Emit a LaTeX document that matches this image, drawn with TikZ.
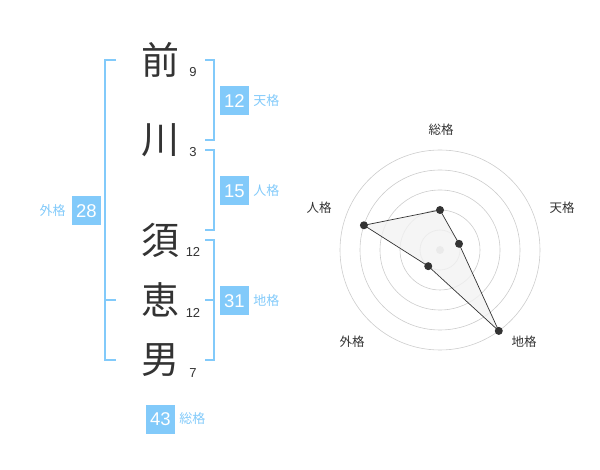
\documentclass[tikz,border=0pt]{standalone}
\usepackage{fontspec}
\setmainfont{Liberation Sans}
\newfontfamily\jp{Noto Sans CJK JP}
\usetikzlibrary{positioning,calc}
\definecolor{kakublue}{HTML}{82CAFA}
\definecolor{inkgray}{HTML}{333333}
\definecolor{ringgray}{HTML}{CCCCCC}
\definecolor{areagray}{HTML}{F2F2F2}
\begin{document}
\begin{tikzpicture}[x=1pt, y=-1pt,
    kanji/.style={text=inkgray, font=\jp\fontsize{38}{38}\selectfont, inner sep=0pt},
    strokes/.style={text=inkgray, font=\fontsize{13}{13}\selectfont, inner sep=0pt},
    kakubox/.style={fill=kakublue, text=white, minimum size=29pt, inner sep=0pt, font=\fontsize{18.5}{18.5}\selectfont},
    kakuname/.style={text=kakublue, font=\jp\fontsize{13}{13}\selectfont, inner sep=0pt},
    brace/.style={draw=kakublue, line width=2pt},
    ring/.style={draw=ringgray, line width=0.6pt},
    axisname/.style={text=inkgray, font=\jp\fontsize{12.5}{12.5}\selectfont, inner sep=0pt},
    dot/.style={circle, fill=inkgray, inner sep=0pt, minimum size=8pt}]
                \useasboundingbox (0,0) rectangle (600,470);
                \node[kanji] (c1) at (160,60) {前};
                \node[kanji] (c2) at (160,140) {川};
                \node[kanji] (c3) at (160,240) {須};
                \node[kanji] (c4) at (160,300) {恵};
                \node[kanji] (c5) at (160,360) {男};
                \node[strokes] (n1) at (193,72) {9};
                \node[strokes] (n2) at (193,152) {3};
                \node[strokes] (n3) at (193,252) {12};
                \node[strokes] (n4) at (193,313) {12};
                \node[strokes] (n5) at (193,373) {7};
                \draw[brace] (205,60) -- (214,60) -- (214,140) -- (205,140);
                \draw[brace] (205,150) -- (214,150) -- (214,230) -- (205,230);
                \draw[brace] (205,240) -- (214,240) -- (214,360) -- (205,360);
                \draw[brace] (205,300) -- (214,300);
                \draw[brace] (116,60) -- (105,60) -- (105,360) -- (116,360);
                \draw[brace] (105,300) -- (116,300);
                \node[kakubox] (ten) at (234.5,101) {12};
                \node[kakuname, right=4pt of ten] (tenname) {天格};
                \node[kakubox] (jin) at (234.5,191) {15};
                \node[kakuname, right=4pt of jin] (jinname) {人格};
                \node[kakubox] (chi) at (234.5,301) {31};
                \node[kakuname, right=4pt of chi] (chiname) {地格};
                \node[kakubox] (gai) at (86.5,211) {28};
                \node[kakuname, left=6pt of gai] (gainame) {外格};
                \node[kakubox] (sou) at (160.5,419) {43};
                \node[kakuname, right=4pt of sou] (souname) {総格};
                \coordinate (o) at (440,250);
                \foreach \r in {20,40,60,80,100}
                    \draw[ring] (o) circle (\r);
                \fill[ringgray] (o) circle (4);
                \coordinate (psou) at ($(o)+(-90:40)$);
                \coordinate (pten) at ($(o)+(-18:20)$);
                \coordinate (pchi) at ($(o)+(54:100)$);
                \coordinate (pgai) at ($(o)+(126:20)$);
                \coordinate (pjin) at ($(o)+(198:80)$);
                \draw[inkgray, fill=areagray, fill opacity=0.8, line width=0.7pt] (psou) -- (pten) -- (pchi) -- (pgai) -- (pjin) -- cycle;
                \foreach \p in {psou,pten,pchi,pgai,pjin}
                    \node[dot] at (\p) {};
                \node[axisname] (asou) at (441,130) {総格};
                \node[axisname] (aten) at (562,208) {天格};
                \node[axisname] (achi) at (524,342) {地格};
                \node[axisname] (agai) at (352,342) {外格};
                \node[axisname] (ajin) at (319,208) {人格};
            \end{tikzpicture}
\end{document}
